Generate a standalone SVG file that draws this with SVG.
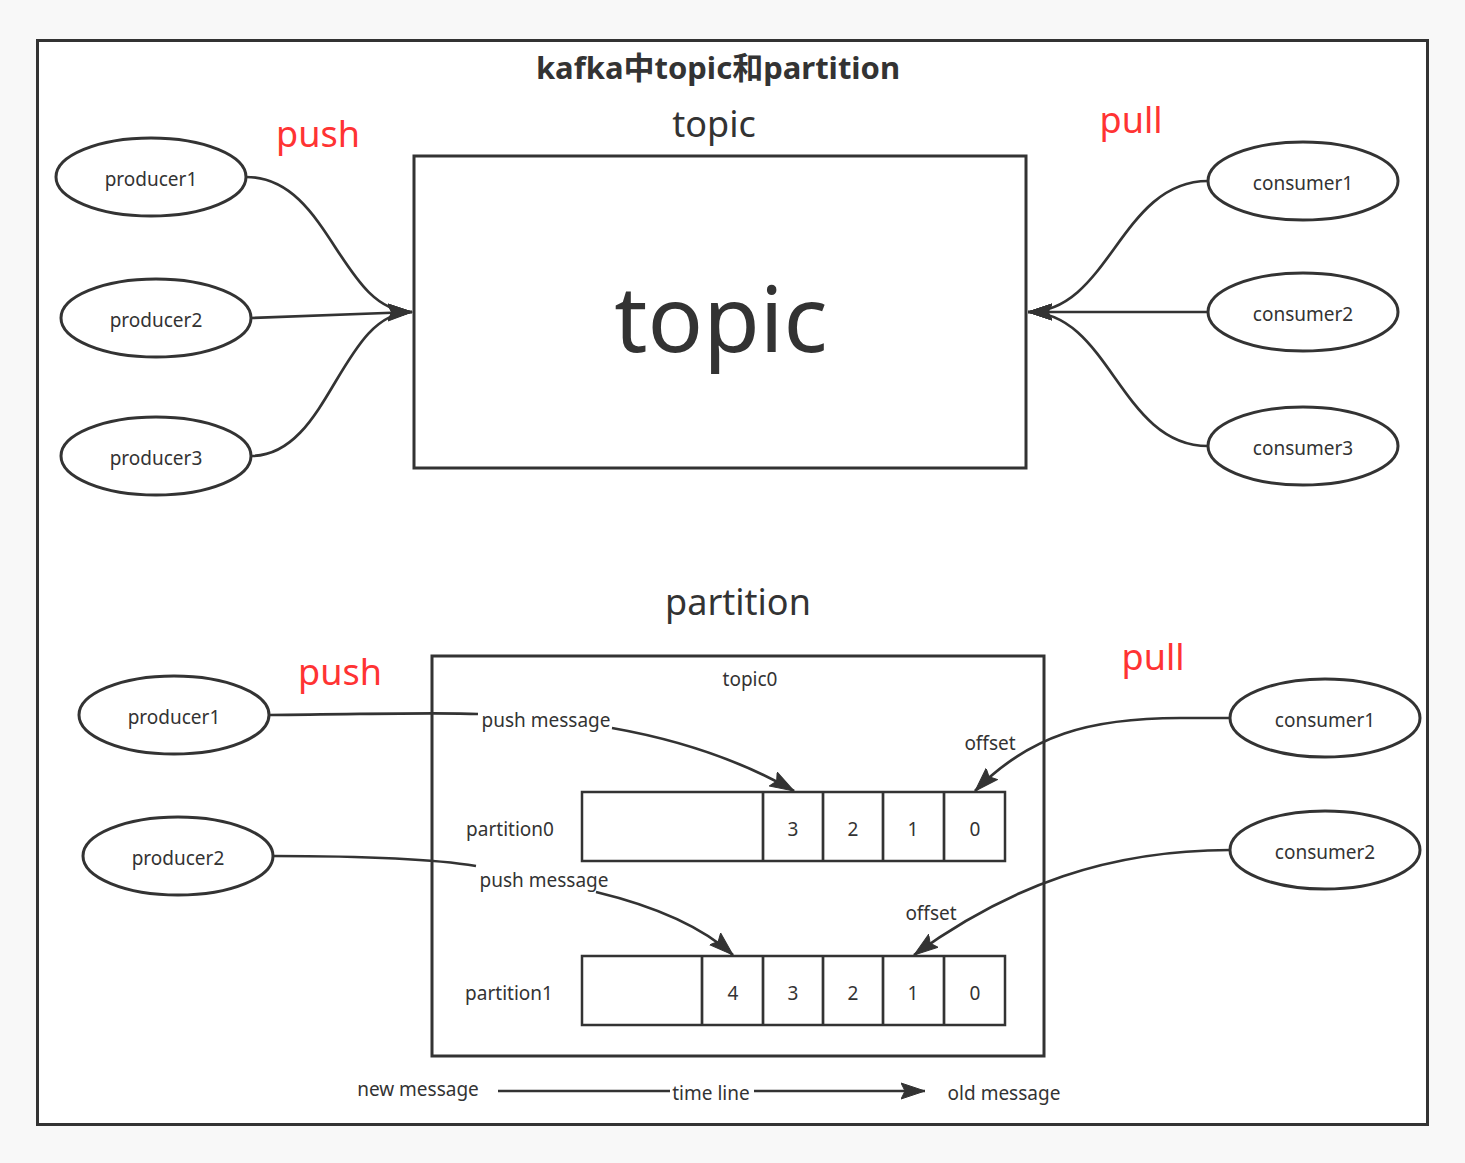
<svg xmlns="http://www.w3.org/2000/svg" width="1465" height="1163" viewBox="0 0 1465 1163">
<style>
text{font-family:"Noto Sans","Noto Sans CJK SC",sans-serif;fill:#333;text-anchor:middle}
.n{fill:#fff;stroke:#333;stroke-width:3}
.e{fill:none;stroke:#333;stroke-width:2.7}
.t{font-size:19px}
.red{fill:#ff3333;font-size:36px}
.cell{fill:#fff;stroke:#333;stroke-width:2.5}
</style>
<defs>
<marker id="a" markerUnits="userSpaceOnUse" markerWidth="26" markerHeight="20" viewBox="0 0 26 20" refX="24" refY="10" orient="auto">
<path d="M0,2 L24,10 L0,18 L4,10 Z" fill="#333" stroke="#333" stroke-width="1"/>
</marker>
</defs>
<rect width="1465" height="1163" fill="#f8f8f8"/>
<rect x="37.5" y="40.5" width="1390" height="1084" fill="#fff" stroke="#333" stroke-width="3"/>
<text x="718" y="79" style="font-size:31px;font-weight:bold">kafka中topic和partition</text>
<text x="714" y="137" style="font-size:36px">topic</text>
<text x="318" y="147" class="red">push</text>
<text x="1131" y="133" class="red">pull</text>
<text x="738" y="615" style="font-size:36px">partition</text>
<text x="340" y="685" class="red">push</text>
<text x="1153" y="670" class="red">pull</text>

<g id="topic-box"><rect x="414" y="156" width="612" height="312" class="n"/><text x="721" y="352" style="font-size:92px">topic</text></g>

<g id="t-producer1"><ellipse cx="151" cy="177" rx="95" ry="39" class="n"/><text x="151" y="186" class="t">producer1</text></g>
<g id="t-producer2"><ellipse cx="156" cy="318" rx="95" ry="39" class="n"/><text x="156" y="327" class="t">producer2</text></g>
<g id="t-producer3"><ellipse cx="156" cy="456" rx="95" ry="39" class="n"/><text x="156" y="465" class="t">producer3</text></g>
<g id="t-consumer1"><ellipse cx="1303" cy="181" rx="95" ry="39" class="n"/><text x="1303" y="190" class="t">consumer1</text></g>
<g id="t-consumer2"><ellipse cx="1303" cy="312" rx="95" ry="39" class="n"/><text x="1303" y="321" class="t">consumer2</text></g>
<g id="t-consumer3"><ellipse cx="1303" cy="446" rx="95" ry="39" class="n"/><text x="1303" y="455" class="t">consumer3</text></g>

<g id="topic0-box"><rect x="432" y="656" width="612" height="400" class="n"/><text x="750" y="686" class="t">topic0</text></g>

<g id="partition0"><text x="510" y="836" class="t">partition0</text>
<rect x="582" y="792" width="423" height="69" class="cell"/>
<path d="M763,792V861M823,792V861M883,792V861M944,792V861" class="e"/>
<text x="793" y="836" class="t">3</text><text x="853" y="836" class="t">2</text><text x="913" y="836" class="t">1</text><text x="975" y="836" class="t">0</text></g>

<g id="partition1"><text x="509" y="1000" class="t">partition1</text>
<rect x="582" y="956" width="423" height="69" class="cell"/>
<path d="M702,956V1025M763,956V1025M823,956V1025M883,956V1025M944,956V1025" class="e"/>
<text x="733" y="1000" class="t">4</text><text x="793" y="1000" class="t">3</text><text x="853" y="1000" class="t">2</text><text x="913" y="1000" class="t">1</text><text x="975" y="1000" class="t">0</text></g>

<g id="p-producer1"><ellipse cx="174" cy="715" rx="95" ry="39" class="n"/><text x="174" y="724" class="t">producer1</text></g>
<g id="p-producer2"><ellipse cx="178" cy="856" rx="95" ry="39" class="n"/><text x="178" y="865" class="t">producer2</text></g>
<g id="p-consumer1"><ellipse cx="1325" cy="718" rx="95" ry="39" class="n"/><text x="1325" y="727" class="t">consumer1</text></g>
<g id="p-consumer2"><ellipse cx="1325" cy="850" rx="95" ry="39" class="n"/><text x="1325" y="859" class="t">consumer2</text></g>

<g id="connectors">
<path d="M246,177 C330,177 340,312 412,312" class="e" marker-end="url(#a)"/>
<path d="M251,318 L412,312" class="e" marker-end="url(#a)"/>
<path d="M251,456 C330,456 340,312 412,312" class="e" marker-end="url(#a)"/>
<path d="M1208,181 C1120,181 1110,312 1028,312" class="e" marker-end="url(#a)"/>
<path d="M1208,312 L1028,312" class="e" marker-end="url(#a)"/>
<path d="M1208,446 C1120,446 1110,312 1028,312" class="e" marker-end="url(#a)"/>

<path d="M269,715 C380,714 440,712 478,714" class="e"/>
<path d="M612,728 C680,740 740,760 794,791" class="e" marker-end="url(#a)"/>
<text x="546" y="727" class="t">push message</text>
<path d="M273,856 C380,856 440,860 476,866" class="e"/>
<path d="M596,892 C650,905 700,925 733,955" class="e" marker-end="url(#a)"/>
<text x="544" y="887" class="t">push message</text>

<path d="M1230,718 L1180,718 C1090,718 1030,735 975,791" class="e" marker-end="url(#a)"/>
<text x="990" y="750" class="t">offset</text>
<path d="M1230,850 C1110,850 1010,885 914,955" class="e" marker-end="url(#a)"/>
<text x="931" y="920" class="t">offset</text>

<text x="418" y="1096" class="t">new message</text>
<path d="M498,1091 L925,1091" class="e" marker-end="url(#a)"/>
<rect x="670" y="1080" width="84" height="24" fill="#fff"/>
<text x="711" y="1100" class="t">time line</text>
<text x="1004" y="1100" class="t">old message</text>
</g>
</svg>
